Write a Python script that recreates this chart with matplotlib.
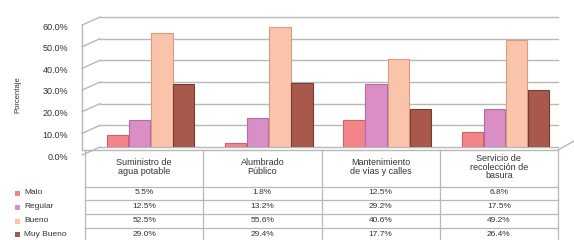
import numpy as np
import matplotlib
matplotlib.use('Agg')
from matplotlib import pyplot as plt
from matplotlib.lines import Line2D
from matplotlib.patches import Rectangle
from matplotlib.transforms import ScaledTranslation, blended_transform_factory

# data (percent)
categories = ['Suministro de\nagua potable', 'Alumbrado\nPúblico',
              'Mantenimiento\nde vías y calles', 'Servicio de\nrecolección de\nbasura']
series = ['Malo', 'Regular', 'Bueno', 'Muy Bueno']
malo = [5.5, 1.8, 12.5, 6.8]
regular = [12.5, 13.2, 29.2, 17.5]
bueno = [52.5, 55.6, 40.6, 49.2]
muy_bueno = [29.0, 29.4, 17.7, 26.4]
yticks = [0, 10, 20, 30, 40, 50, 60]

colors = ['#f3848a', '#d98ec6', '#f9c4aa', '#a8594b']
edges = ['#c9646a', '#b46aa2', '#d89c80', '#7a3a30']
txt = '#333333'
grid = '#b8b8b8'

plt.rcParams['font.family'] = ['Liberation Sans', 'DejaVu Sans']

W, H = 574, 240
fig = plt.figure(figsize=(W / 100, H / 100), dpi=100)


def px(x, y):
    # pixel position (from top-left) to figure fraction
    return x / W, 1 - y / H


ax = fig.add_axes([85 / W, 1 - 147 / H, 473 / W, 130 / H])
ax.set_xlim(-0.5, 3.5)
ax.set_ylim(0, 60)
for s in ax.spines.values():
    s.set_visible(False)
ax.set_xticks([])
ax.set_facecolor('none')

# back wall gridlines + slanted left wall
wall = 15 / 473
for v in yticks:
    ax.plot([wall, 1.0], [v, v], transform=blended_transform_factory(ax.transAxes, ax.transData),
            color=grid, lw=1.0, zorder=0, clip_on=False)
    _, yd = ax.transData.transform((0, v))
    xb = fig.transFigure.inverted().transform((ax.transAxes.transform((wall, 0))[0], yd))
    xf = fig.transFigure.inverted().transform((ax.transAxes.transform((-0.006, 0))[0], yd - 8))
    fig.add_artist(Line2D([xf[0], xb[0]], [xf[1], xb[1]], color=grid, lw=1.0))
# wall front edge and floor
fig.add_artist(Line2D(*zip(px(82, 25), px(82, 150)), color=grid, lw=1.0))
fig.add_artist(Line2D(*zip(px(82, 150), px(558, 150)), color=grid, lw=1.0))
fig.add_artist(Line2D(*zip(px(558, 150), px(574, 141)), color=grid, lw=1.0))

ax.set_yticks(yticks)
ax.set_yticklabels(['%.1f%%' % v for v in yticks])
ax.tick_params(axis='y', length=0, pad=12, labelsize=6.5, labelcolor=txt)
for lab in ax.get_yticklabels():
    lab.set_transform(lab.get_transform() + ScaledTranslation(0, -9 / 100, fig.dpi_scale_trans))
fig.text(*px(18, 95), 'Porcentaje', rotation=90, ha='center', va='center',
         fontsize=5.5, color=txt)

# bars
x = np.arange(len(categories))
width = 0.18
offsets = [-0.225, -0.04, 0.15, 0.335]
for vals, off, c, e in zip([malo, regular, bueno, muy_bueno], offsets, colors, edges):
    ax.bar(x + off, vals, width, color=c, edgecolor=e, linewidth=0.8, zorder=3)

# data table under the chart
tr = blended_transform_factory(ax.transData, fig.transFigure)
for xe in np.arange(-0.5, 4.0, 1.0):
    ax.add_line(Line2D([xe, xe], [1 - 150 / H, 0], transform=tr, color=grid, lw=0.9,
                       clip_on=False))
for yl in [187, 200, 214, 228]:
    ax.add_line(Line2D([-0.5, 3.5], [1 - yl / H] * 2, transform=tr, color=grid, lw=0.9,
                       clip_on=False))
for i, cat in enumerate(categories):
    ax.text(i, 1 - 167 / H, cat, transform=tr, ha='center', va='center', fontsize=6.5,
            color=txt, linespacing=0.95)

row_y = [193, 207, 221, 234]
for vals, name, c, ry in zip([malo, regular, bueno, muy_bueno], series, colors, row_y):
    for i, v in enumerate(vals):
        ax.text(i, 1 - ry / H, '%.1f%%' % v, transform=tr, ha='center', va='center',
                fontsize=6, color=txt)
    fig.add_artist(Rectangle(px(15, ry + 2.5), 5 / W, 5 / H, facecolor=c, edgecolor='none'))
    fig.text(*px(24, ry), name, ha='left', va='center', fontsize=6, color=txt)

plt.savefig('out.png', dpi=100)
